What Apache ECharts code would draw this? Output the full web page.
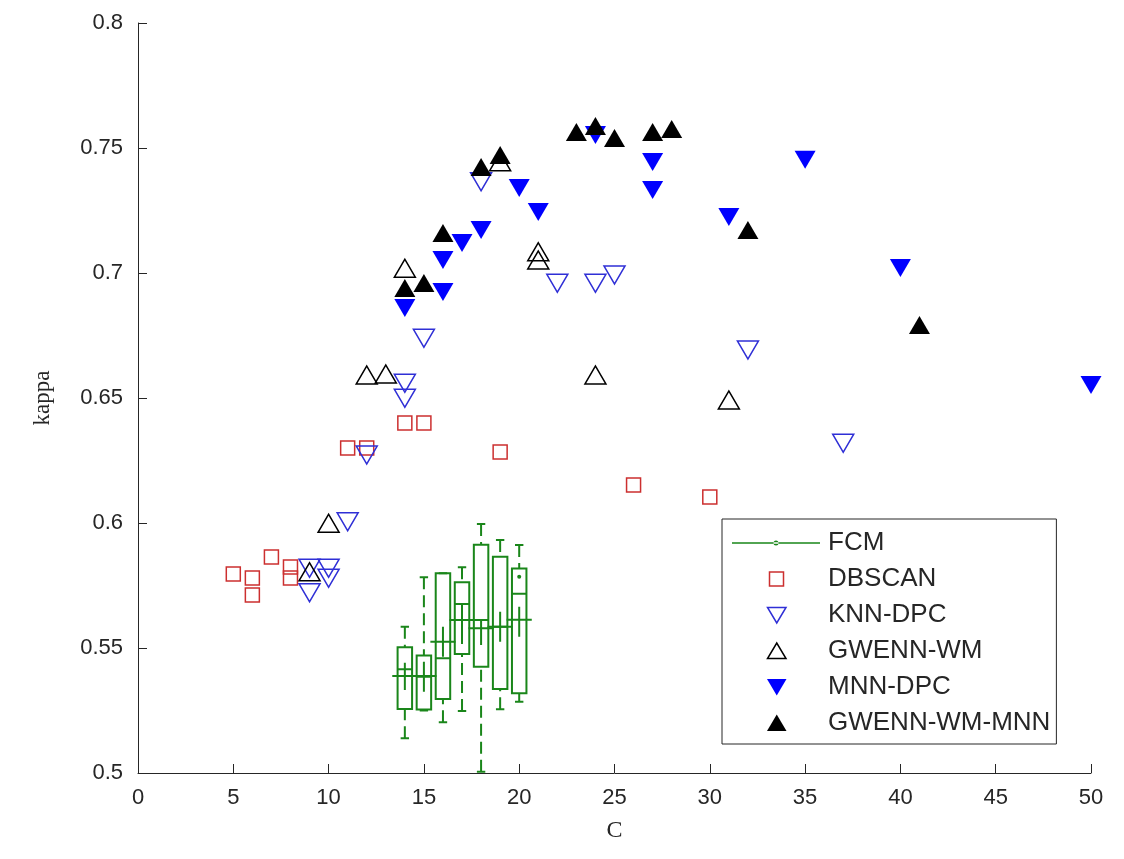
<!DOCTYPE html>
<html>
<head>
<meta charset="utf-8">
<script src="https://cdn.jsdelivr.net/npm/echarts@6/dist/echarts.min.js"></script>
<style>
html,body{margin:0;padding:0;background:#fff;}
#chart{width:1124px;height:859px;}
</style>
</head>
<body>
<div id="chart"></div>
<script>
// ---------- tick labels ----------
const xTickLabels = ['0','5','10','15','20','25','30','35','40','45','50'];
const yTickLabels = ['0.5','0.55','0.6','0.65','0.7','0.75','0.8'];

// ---------- FCM (box plots) ----------
const fcmC      = [14, 15, 16, 17, 18, 19, 20];
const fcmLow    = [0.5139, 0.5250, 0.5203, 0.5248, 0.5005, 0.5255, 0.5285];
const fcmQ1     = [0.5256, 0.5254, 0.5296, 0.5476, 0.5425, 0.5336, 0.5319];
const fcmMedian = [0.5415, 0.5385, 0.5459, 0.5676, 0.5612, 0.5585, 0.5717];
const fcmQ3     = [0.5503, 0.5470, 0.5799, 0.5763, 0.5913, 0.5865, 0.5818];
const fcmHigh   = [0.5585, 0.5783, 0.5799, 0.5823, 0.5996, 0.5932, 0.5912];
const fcmMean   = [0.5388, 0.5388, 0.5525, 0.5612, 0.5579, 0.5585, 0.5613];
const fcmMeanLo = [0.5332, 0.5325, 0.5465, 0.5516, 0.5512, 0.5525, 0.5545];
const fcmMeanHi = [0.5441, 0.5445, 0.5585, 0.5676, 0.5616, 0.5645, 0.5665];
const fcmDotC   = [20];
const fcmDotK   = [0.5785];

// ---------- DBSCAN ----------
const dbscanC = [5, 6, 6, 7, 8, 8, 11, 12, 14, 15, 19, 26, 30];
const dbscanK = [0.5796, 0.5780, 0.5712, 0.5864, 0.5824, 0.5780, 0.6300, 0.6300, 0.6400, 0.6400, 0.6284, 0.6152, 0.6104];

// ---------- KNN-DPC ----------
const knnC = [9, 9, 10, 10, 11, 12, 14, 14, 15, 18, 22, 24, 25, 32, 37];
const knnK = [0.5819, 0.5721, 0.5819, 0.5779, 0.6005, 0.6272, 0.6559, 0.6499, 0.6739, 0.7365, 0.6959, 0.6959, 0.6992, 0.6692, 0.6319];

// ---------- GWENN-WM ----------
const gwC = [9, 10, 12, 13, 14, 19, 21, 21, 24, 31];
const gwK = [0.5805, 0.5999, 0.6592, 0.6596, 0.7019, 0.7445, 0.7085, 0.7052, 0.6592, 0.6492];

// ---------- MNN-DPC ----------
const mnnC = [14, 16, 16, 17, 18, 20, 21, 24, 27, 27, 31, 35, 40, 50];
const mnnK = [0.6860, 0.6924, 0.7052, 0.7120, 0.7172, 0.7340, 0.7244, 0.7552, 0.7444, 0.7332, 0.7224, 0.7453, 0.7020, 0.6552];

// ---------- GWENN-WM-MNN ----------
const gwmC = [14, 15, 16, 18, 19, 23, 24, 25, 27, 28, 32, 41];
const gwmK = [0.6940, 0.6960, 0.7160, 0.7424, 0.7472, 0.7564, 0.7588, 0.7540, 0.7564, 0.7576, 0.7172, 0.6792];

// ---------- styles ----------
const GREEN = '#1a861a';
const RED = '#cc2f2f';
const BLUE_OPEN = '#2f2fd6';
const BLUE = '#0000ff';
const BLACK = '#000000';
const AXIS = '#262626';
const SANS = "'Liberation Sans', Arial, Helvetica, sans-serif";
const SERIF = "'Liberation Serif', 'Times New Roman', serif";

const zip = (a, b) => a.map((v, i) => [v, b[i]]);
const fcmRows = fcmC.map((c, i) => [c, fcmLow[i], fcmQ1[i], fcmMedian[i], fcmQ3[i], fcmHigh[i], fcmMean[i], fcmMeanLo[i], fcmMeanHi[i]]);

function renderBox(params, api) {
  const c = api.value(0);
  const pLo = api.coord([c, api.value(1)]);
  const pQ1 = api.coord([c, api.value(2)]);
  const pMed = api.coord([c, api.value(3)]);
  const pQ3 = api.coord([c, api.value(4)]);
  const pHi = api.coord([c, api.value(5)]);
  const pMean = api.coord([c, api.value(6)]);
  const pMLo = api.coord([c, api.value(7)]);
  const pMHi = api.coord([c, api.value(8)]);
  const x = pQ1[0];
  const hw = api.size([0.38, 0])[0];
  const cw = api.size([0.22, 0])[0];
  const xw = api.size([0.66, 0])[0];
  const solid = {stroke: GREEN, lineWidth: 2, fill: null};
  const dashed = {stroke: GREEN, lineWidth: 2, fill: null, lineDash: [12, 6]};
  return {
    type: 'group',
    children: [
      {type: 'line', shape: {x1: x, y1: pHi[1], x2: x, y2: pQ3[1]}, style: dashed},
      {type: 'line', shape: {x1: x, y1: pLo[1], x2: x, y2: pQ1[1]}, style: dashed},
      {type: 'line', shape: {x1: x - cw, y1: pHi[1], x2: x + cw, y2: pHi[1]}, style: solid},
      {type: 'line', shape: {x1: x - cw, y1: pLo[1], x2: x + cw, y2: pLo[1]}, style: solid},
      {type: 'rect', shape: {x: x - hw, y: pQ3[1], width: 2 * hw, height: pQ1[1] - pQ3[1]},
        style: {stroke: GREEN, lineWidth: 2, fill: 'rgba(0,0,0,0)'}},
      {type: 'line', shape: {x1: x - hw, y1: pMed[1], x2: x + hw, y2: pMed[1]}, style: solid},
      {type: 'line', shape: {x1: x - xw, y1: pMean[1], x2: x + xw, y2: pMean[1]}, style: solid},
      {type: 'line', shape: {x1: x, y1: pMLo[1], x2: x, y2: pMHi[1]}, style: solid}
    ]
  };
}

const triSize = [21, 18];
const openStyle = (c) => ({color: 'rgba(0,0,0,0)', borderColor: c, borderWidth: 1.5, opacity: 1});

const chart = echarts.init(document.getElementById('chart'), null, {renderer: 'canvas'});
chart.setOption({
  animation: false,
  backgroundColor: '#ffffff',
  grid: {left: 138, right: 33, top: 23, bottom: 86},
  xAxis: {
    type: 'value', min: 0, max: 50, interval: 5,
    name: 'C', nameLocation: 'middle', nameGap: 46,
    nameTextStyle: {fontFamily: SERIF, fontSize: 24, color: AXIS},
    axisLine: {show: true, lineStyle: {color: AXIS, width: 1}},
    axisTick: {show: true, inside: true, length: 9, lineStyle: {color: AXIS}},
    axisLabel: {fontFamily: SANS, fontSize: 22, color: AXIS, margin: 14,
      formatter: (v) => xTickLabels[Math.round(v / 5)]},
    splitLine: {show: false}
  },
  yAxis: {
    type: 'value', min: 0.5, max: 0.8, interval: 0.05,
    name: 'kappa', nameLocation: 'middle', nameGap: 84, nameRotate: 90,
    nameTextStyle: {fontFamily: SERIF, fontSize: 23, color: AXIS},
    axisLine: {show: true, lineStyle: {color: AXIS, width: 1}},
    axisTick: {show: true, inside: true, length: 9, lineStyle: {color: AXIS}},
    axisLabel: {fontFamily: SANS, fontSize: 22, color: AXIS, margin: 15,
      formatter: (v) => yTickLabels[Math.round((v - 0.5) / 0.05)]},
    splitLine: {show: false}
  },
  legend: {
    orient: 'vertical', left: 722, top: 519, align: 'left',
    padding: [11, 6, 8, 9],
    borderColor: AXIS, borderWidth: 1, backgroundColor: '#ffffff',
    itemWidth: 92, itemHeight: 18, itemGap: 10,
    selectedMode: false,
    textStyle: {fontFamily: SANS, fontSize: 26, color: AXIS, lineHeight: 26},
    data: [
      {name: 'FCM', icon: 'path://M0,8M92,10M1,8.25H89V9.75H1Z M42.5,9a2.5,2.5 0 1,0 5,0a2.5,2.5 0 1,0 -5,0Z',
        itemStyle: {color: GREEN, borderWidth: 0, opacity: 1}},
      {name: 'DBSCAN', icon: 'path://M0,0M22,18M3.5,2H17.5V16H3.5Z',
        itemStyle: {color: 'rgba(0,0,0,0)', borderColor: RED, borderWidth: 1.5, opacity: 1}},
      {name: 'KNN-DPC', icon: 'path://M0,0M22,18M1.5,1.5H20L10.75,17Z',
        itemStyle: {color: 'rgba(0,0,0,0)', borderColor: BLUE_OPEN, borderWidth: 1.5, opacity: 1}},
      {name: 'GWENN-WM', icon: 'path://M0,0M22,18M1.5,16.5H20L10.75,1Z',
        itemStyle: {color: 'rgba(0,0,0,0)', borderColor: BLACK, borderWidth: 1.5, opacity: 1}},
      {name: 'MNN-DPC', icon: 'path://M0,0M22,18M1,1H20.5L10.75,17.5Z',
        itemStyle: {color: BLUE, borderWidth: 0, opacity: 1}},
      {name: 'GWENN-WM-MNN', icon: 'path://M0,0M22,18M1,17H20.5L10.75,0.5Z',
        itemStyle: {color: BLACK, borderWidth: 0, opacity: 1}}
    ]
  },
  series: [
    {
      name: 'FCM', type: 'line', data: zip(fcmDotC, fcmDotK),
      symbol: 'circle', symbolSize: 4, showSymbol: true,
      itemStyle: {color: GREEN, opacity: 1}, lineStyle: {color: GREEN, width: 1},
      z: 3
    },
    {
      name: 'FCM', type: 'custom', data: fcmRows, renderItem: renderBox,
      encode: {x: 0, y: [1, 2, 3, 4, 5]},
      itemStyle: {color: GREEN}, z: 2
    },
    {
      name: 'DBSCAN', type: 'scatter', data: zip(dbscanC, dbscanK),
      symbol: 'rect', symbolSize: 14, itemStyle: openStyle(RED), z: 3
    },
    {
      name: 'KNN-DPC', type: 'scatter', data: zip(knnC, knnK),
      symbol: 'triangle', symbolRotate: 180, symbolSize: triSize, itemStyle: openStyle(BLUE_OPEN), z: 4
    },
    {
      name: 'GWENN-WM', type: 'scatter', data: zip(gwC, gwK),
      symbol: 'triangle', symbolSize: triSize, itemStyle: openStyle(BLACK), z: 5
    },
    {
      name: 'MNN-DPC', type: 'scatter', data: zip(mnnC, mnnK),
      symbol: 'triangle', symbolRotate: 180, symbolSize: triSize, itemStyle: {color: BLUE, opacity: 1}, z: 6
    },
    {
      name: 'GWENN-WM-MNN', type: 'scatter', data: zip(gwmC, gwmK),
      symbol: 'triangle', symbolSize: triSize, itemStyle: {color: BLACK, opacity: 1}, z: 7
    }
  ]
});
</script>
</body>
</html>
